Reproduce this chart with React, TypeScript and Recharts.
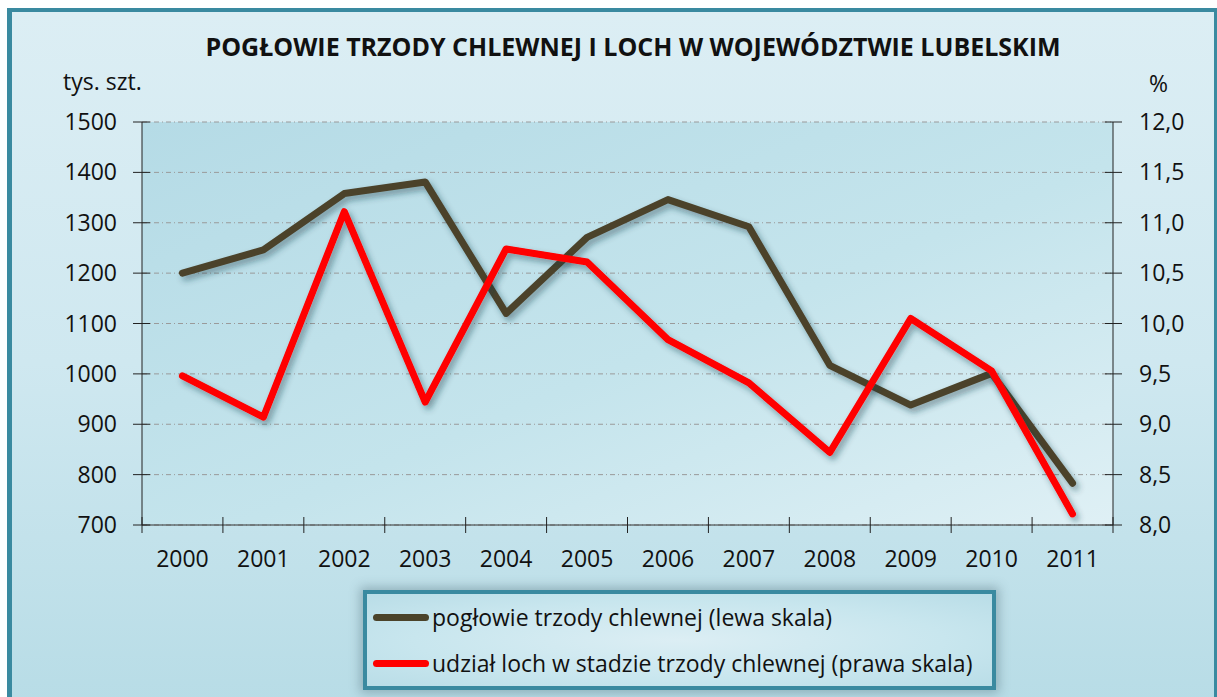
import { LineChart, Line, XAxis, YAxis, CartesianGrid } from "recharts";

const YEARS = ["2000", "2001", "2002", "2003", "2004", "2005", "2006", "2007", "2008", "2009", "2010", "2011"];
const HERD = [1200, 1246, 1358, 1381, 1120, 1271, 1346, 1292, 1017, 938, 1001, 783];
const SOW_SHARE = [9.48, 9.07, 11.11, 9.22, 10.74, 10.61, 9.84, 9.41, 8.72, 10.05, 9.53, 8.11];
const LEFT_TICKS = [700, 800, 900, 1000, 1100, 1200, 1300, 1400, 1500];
const RIGHT_TICKS = [8, 8.5, 9, 9.5, 10, 10.5, 11, 11.5, 12];

const HERD_NAME = "pogłowie trzody chlewnej (lewa skala)";
const SHARE_NAME = "udział loch w stadzie trzody chlewnej (prawa skala)";
const HERD_COLOR = "#4b432a";
const SHARE_COLOR = "#ff0000";
const FONT = "'Open Sans', sans-serif";

const data = YEARS.map((year, i) => ({ i, year, herd: HERD[i], share: SOW_SHARE[i] }));
// year labels at integer positions, category boundary ticks at the halves
const X_TICKS = YEARS.flatMap((_, i) => (i === 0 ? [-0.5, 0] : [i - 0.5, i])).concat([YEARS.length - 0.5]);

const LeftTick = ({ x, y, payload }: any) => (
  <g>
    <line x1={x - 9} x2={x + 8} y1={y} y2={y} stroke="#222" />
    <text x={x - 25} y={y} dy="0.35em" textAnchor="end" fontSize={23} fontFamily={FONT} fill="#111">
      {payload.value}
    </text>
  </g>
);

const RightTick = ({ x, y, payload }: any) => (
  <g>
    <line x1={x - 8} x2={x + 9} y1={y} y2={y} stroke="#222" />
    <text x={x + 26} y={y} dy="0.35em" textAnchor="start" fontSize={23} fontFamily={FONT} fill="#111">
      {Number(payload.value).toFixed(1).replace(".", ",")}
    </text>
  </g>
);

const BottomTick = ({ x, y, payload }: any) => {
  const v = payload.value as number;
  if (!Number.isInteger(v)) {
    return <line x1={x} x2={x} y1={y - 8} y2={y + 8} stroke="#222" />;
  }
  return (
    <text x={x} y={y + 34} dy="0.35em" textAnchor="middle" fontSize={23} fontFamily={FONT} fill="#111">
      {YEARS[v]}
    </text>
  );
};

function LegendRow({ color, label }: { color: string; label: string }) {
  return (
    <div style={{ display: "flex", alignItems: "center", height: 50 }}>
      <div style={{ width: 56, height: 7, borderRadius: 4, background: color, marginRight: 3 }} />
      <span>{label}</span>
    </div>
  );
}

export default function App() {
  return (
    <div style={{ position: "relative", width: 1217, height: 697, overflow: "hidden", fontFamily: FONT }}>
      <style>{"body{margin:0;overflow:hidden}"}</style>
      <div
        style={{
          position: "absolute",
          left: 7,
          top: 8,
          width: 1202,
          height: 700,
          borderTop: "4px solid #3a8aa0",
          borderLeft: "5px solid #3a8aa0",
          borderRight: "4px solid #3a8aa0",
          background: "linear-gradient(180deg, #dcEEF4 0%, #cfe8f0 50%, #b7dce6 100%)",
        }}
      />
      <div
        style={{
          position: "absolute",
          left: 0,
          width: 1266,
          top: 29,
          textAlign: "center",
          fontWeight: 700,
          fontSize: 25,
          color: "#111",
        }}
      >
        POGŁOWIE TRZODY CHLEWNEJ I LOCH W WOJEWÓDZTWIE LUBELSKIM
      </div>
      <div style={{ position: "absolute", left: 63, top: 65, fontSize: 23, color: "#111" }}>tys. szt.</div>
      <div style={{ position: "absolute", left: 1149, top: 67, fontSize: 23, color: "#111" }}>%</div>

      <div style={{ position: "absolute", left: 0, top: 0 }}>
        <LineChart width={1217} height={697} data={data} margin={{ top: 122, right: 44, bottom: 142, left: 82 }}>
          <defs>
            <linearGradient id="plotBg" x1="0" y1="0" x2="1" y2="1">
              <stop offset="0%" stopColor="#b5dbe6" />
              <stop offset="55%" stopColor="#c4e4ec" />
              <stop offset="100%" stopColor="#dff0f5" />
            </linearGradient>
            <filter id="shadow" x="-10%" y="-10%" width="120%" height="130%">
              <feDropShadow dx="3" dy="4" stdDeviation="3" floodColor="#1d3a44" floodOpacity="0.45" />
            </filter>
          </defs>
          <CartesianGrid
            vertical={false}
            yAxisId="left"
            stroke="#9a9a9a"
            strokeDasharray="5 3 1 3"
            fill="url(#plotBg)"
            fillOpacity={1}
          />
          <XAxis
            dataKey="i"
            type="number"
            domain={[-0.5, YEARS.length - 0.5]}
            ticks={X_TICKS}
            interval={0}
            height={30}
            tickSize={0}
            tickMargin={0}
            tickLine={false}
            axisLine={{ stroke: "#333" }}
            tick={<BottomTick />}
          />
          <YAxis
            yAxisId="left"
            domain={[700, 1500]}
            ticks={LEFT_TICKS}
            interval={0}
            width={60}
            tickSize={0}
            tickMargin={0}
            tickLine={false}
            axisLine={{ stroke: "#222" }}
            tick={<LeftTick />}
          />
          <YAxis
            yAxisId="right"
            orientation="right"
            domain={[8, 12]}
            ticks={RIGHT_TICKS}
            interval={0}
            width={60}
            tickSize={0}
            tickMargin={0}
            tickLine={false}
            axisLine={{ stroke: "#222" }}
            tick={<RightTick />}
          />
          <Line
            yAxisId="left"
            dataKey="herd"
            name={HERD_NAME}
            stroke={HERD_COLOR}
            strokeWidth={7}
            strokeLinecap="round"
            strokeLinejoin="round"
            dot={false}
            filter="url(#shadow)"
            isAnimationActive={false}
          />
          <Line
            yAxisId="right"
            dataKey="share"
            name={SHARE_NAME}
            stroke={SHARE_COLOR}
            strokeWidth={7}
            strokeLinecap="round"
            strokeLinejoin="round"
            dot={false}
            filter="url(#shadow)"
            isAnimationActive={false}
          />
        </LineChart>
      </div>

      <div
        style={{
          position: "absolute",
          left: 363,
          top: 590,
          width: 619,
          height: 92,
          border: "4px solid #3a8aa0",
          boxShadow: "0 0 10px 3px rgba(60,90,100,0.35)",
          background: "radial-gradient(ellipse at center, #dcEEF4 0%, #c8e6ee 60%, #b9dde7 100%)",
          padding: "0 0 0 6px",
          fontSize: 23,
          color: "#111",
          display: "flex",
          flexDirection: "column",
          justifyContent: "center",
          whiteSpace: "nowrap",
        }}
      >
        <LegendRow color={HERD_COLOR} label={HERD_NAME} />
        <LegendRow color={SHARE_COLOR} label={SHARE_NAME} />
      </div>
    </div>
  );
}
